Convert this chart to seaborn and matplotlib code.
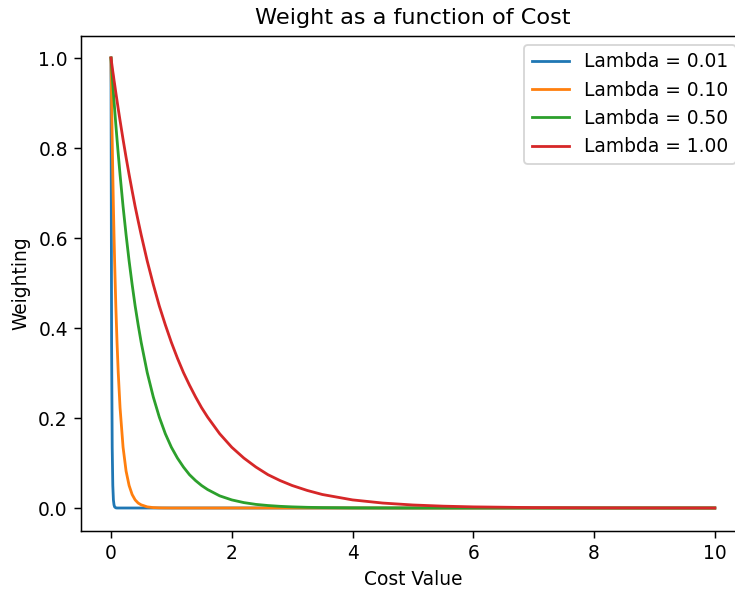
import matplotlib
matplotlib.use("Agg")
import matplotlib.pyplot as plt
import pandas as pd
import seaborn as sns

# Cost values at which the weighting curves were sampled
cost = [0, 0.01, 0.02, 0.03, 0.04, 0.05, 0.06, 0.08, 0.1, 0.12, 0.15, 0.2,
        0.25, 0.3, 0.35, 0.4, 0.45, 0.5, 0.6, 0.7, 0.8, 0.9, 1.0, 1.1,
        1.2, 1.3, 1.4, 1.5, 1.6, 1.8, 2.0, 2.2, 2.4, 2.6, 2.8, 3.0,
        3.25, 3.5, 3.75, 4.0, 4.5, 5.0, 5.5, 6.0, 7.0, 8.0, 9.0, 10.0]

lambdas = [0.01, 0.10, 0.50, 1.00]

weight_l001 = [1.0, 0.368, 0.135, 0.050, 0.018, 0.007, 0.0025, 0.0003] + [0.0] * 40
weight_l010 = [1.0, 0.905, 0.819, 0.741, 0.670, 0.607, 0.549, 0.449, 0.368, 0.301,
               0.223, 0.135, 0.082, 0.050, 0.030, 0.018, 0.011, 0.007, 0.0025,
               0.0009, 0.0003, 0.0001] + [0.0] * 26
weight_l050 = [1.0, 0.980, 0.961, 0.942, 0.923, 0.905, 0.887, 0.852, 0.819, 0.787,
               0.741, 0.670, 0.607, 0.549, 0.497, 0.449, 0.407, 0.368, 0.301, 0.247,
               0.202, 0.165, 0.135, 0.111, 0.091, 0.074, 0.061, 0.050, 0.041, 0.027,
               0.018, 0.012, 0.008, 0.0055, 0.0037, 0.0025, 0.0015, 0.0009, 0.0006,
               0.0003, 0.0001] + [0.0] * 7
weight_l100 = [1.0, 0.990, 0.980, 0.970, 0.961, 0.951, 0.942, 0.923, 0.905, 0.887,
               0.861, 0.819, 0.779, 0.741, 0.705, 0.670, 0.638, 0.607, 0.549, 0.497,
               0.449, 0.407, 0.368, 0.333, 0.301, 0.273, 0.247, 0.223, 0.202, 0.165,
               0.135, 0.111, 0.091, 0.074, 0.061, 0.050, 0.039, 0.030, 0.024, 0.018,
               0.011, 0.0067, 0.0041, 0.0025, 0.0009, 0.0003, 0.0001, 0.0]

series = [weight_l001, weight_l010, weight_l050, weight_l100]
colors = ["#1f77b4", "#ff7f0e", "#2ca02c", "#d62728"]

dpi = 134
fig = plt.figure(figsize=(735 / dpi, 589 / dpi), dpi=dpi)
ax = fig.add_axes([80.8 / 735, 58.5 / 589, 664.2 / 735, 495.0 / 589])

for lam, w, c in zip(lambdas, series, colors):
    df = pd.DataFrame({"Cost Value": cost, "Weighting": w})
    sns.lineplot(data=df, x="Cost Value", y="Weighting", ax=ax, color=c,
                 linewidth=1.5, label=f"Lambda = {lam:.2f}")

ax.set_xlim(-0.5, 10.5)
ax.set_ylim(-0.05, 1.05)
ax.set_xticks([0, 2, 4, 6, 8, 10])
ax.set_yticks([0.0, 0.2, 0.4, 0.6, 0.8, 1.0])
ax.set_title("Weight as a function of Cost")
ax.set_xlabel("Cost Value")
ax.set_ylabel("Weighting")
ax.legend(loc="upper right")

fig.savefig("out.png", dpi=dpi)
